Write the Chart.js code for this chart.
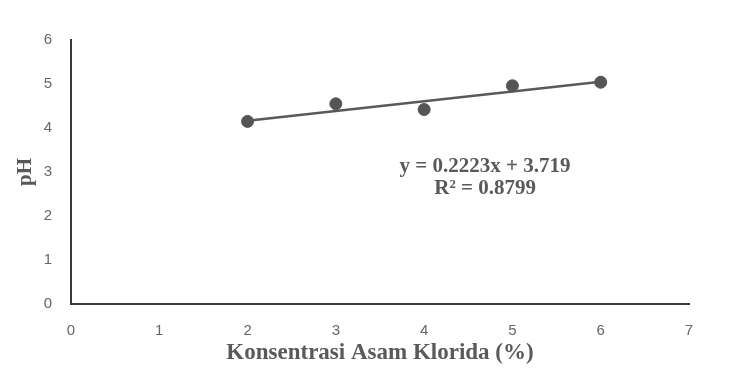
<!DOCTYPE html>
<html>
<head>
<meta charset="utf-8">
<script src="https://cdn.jsdelivr.net/npm/chart.js@4/dist/chart.umd.min.js"></script>
<style>
html,body{margin:0;padding:0;background:#fff;}
#wrap{width:747px;height:388px;position:relative;}
</style>
</head>
<body>
<div id="wrap"><canvas id="c" width="747" height="388"></canvas></div>
<script>
const concentration = [2, 3, 4, 5, 6];
const phValues = [4.15, 4.55, 4.42, 4.96, 5.04];
const trendSlope = 0.2223;
const trendIntercept = 3.719;
const rSquared = 0.8799;
const xTicks = [0, 1, 2, 3, 4, 5, 6, 7];
const yTicks = [0, 1, 2, 3, 4, 5, 6];
const xTitle = 'Konsentrasi Asam Klorida (%)';
const yTitle = 'pH';
const eqLine1 = 'y = ' + trendSlope + 'x + ' + trendIntercept;
const eqLine2 = 'R² = ' + rSquared;

const trendX = [concentration[0], concentration[concentration.length - 1]];
const trendPoints = trendX.map(x => ({x: x, y: trendSlope * x + trendIntercept}));

const grey = '#595959';

const eqPlugin = {
  id: 'eq',
  afterDatasetsDraw(chart) {
    const {ctx, scales} = chart;
    const cx = scales.x.getPixelForValue(4.69);
    const y1 = scales.y.getPixelForValue(3.13);
    const y2 = scales.y.getPixelForValue(2.63);
    ctx.save();
    ctx.fillStyle = grey;
    ctx.font = 'bold 21px "Liberation Serif"';
    ctx.textAlign = 'center';
    ctx.textBaseline = 'middle';
    ctx.fillText(eqLine1, cx, y1);
    ctx.fillText(eqLine2, cx, y2);
    ctx.restore();
  }
};

new Chart(document.getElementById('c'), {
  type: 'scatter',
  data: {
    datasets: [
      {
        label: 'pH',
        data: concentration.map((x, i) => ({x: x, y: phValues[i]})),
        backgroundColor: '#555555',
        borderColor: '#555555',
        pointRadius: 6,
        pointHoverRadius: 6,
        showLine: false
      },
      {
        label: 'Linear',
        data: trendPoints,
        type: 'line',
        borderColor: grey,
        borderWidth: 2.5,
        pointRadius: 0,
        fill: false
      }
    ]
  },
  options: {
    responsive: false,
    animation: false,
    events: [],
    layout: {padding: {left: 0, right: 58, top: 40, bottom: 0}},
    plugins: {legend: {display: false}, tooltip: {enabled: false}},
    scales: {
      x: {
        type: 'linear',
        min: 0, max: 7,
        afterBuildTicks: s => { s.ticks = xTicks.map(v => ({value: v})); },
        afterFit: s => { s.height = 388 - 304; },
        grid: {display: false, drawTicks: false},
        border: {display: true, color: '#3a3a3a', width: 2},
        ticks: {color: '#666666', font: {family: '"Liberation Sans"', size: 15}, padding: 18},
        title: {display: true, text: xTitle, color: grey, font: {family: '"Liberation Serif"', size: 23, weight: 'bold'}, padding: {top: 0, bottom: 21}}
      },
      y: {
        type: 'linear',
        min: 0, max: 6,
        afterBuildTicks: s => { s.ticks = yTicks.map(v => ({value: v})); },
        afterFit: s => { s.width = 71; },
        grid: {display: false, drawTicks: false},
        border: {display: true, color: '#3a3a3a', width: 2},
        ticks: {color: '#666666', font: {family: '"Liberation Sans"', size: 15}, padding: 19},
        title: {display: true, text: yTitle, color: grey, font: {family: '"Liberation Serif"', size: 21, weight: 'bold'}, padding: {top: 13, bottom: 0}}
      }
    }
  },
  plugins: [eqPlugin]
});
</script>
</body>
</html>
